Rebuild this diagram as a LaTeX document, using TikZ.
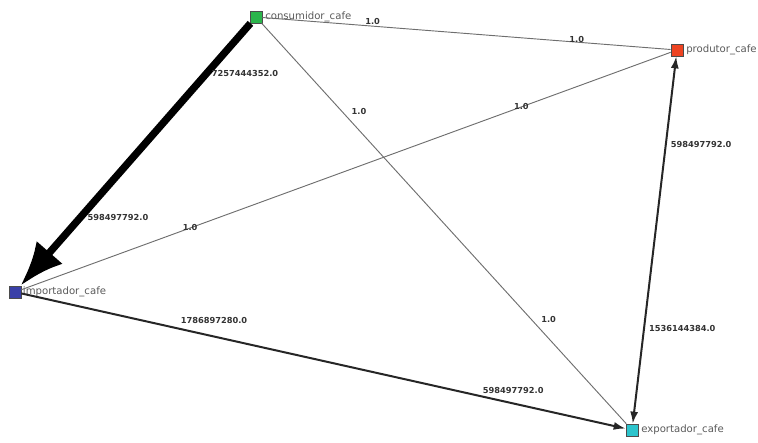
\documentclass[tikz,border=0pt]{standalone}
\usepackage{fontspec}
\setmainfont{DejaVu Sans}
\usepackage{tikz}
\usetikzlibrary{arrows.meta,positioning}
\definecolor{cgreen}{HTML}{2BB54C}
\definecolor{cred}{HTML}{EE4422}
\definecolor{cblue}{HTML}{3A40A8}
\definecolor{ccyan}{HTML}{2CC4CC}
\definecolor{cname}{HTML}{5A5A5A}
\definecolor{cweight}{HTML}{333333}
\definecolor{cthin}{HTML}{6E6E6E}

\begin{document}
\begin{tikzpicture}[x=0.75pt,y=-0.75pt,
  actor/.style={draw=black!70,rectangle,minimum size=9pt,inner sep=0pt,line width=0.5pt},
  actorname/.style={text=cname,font=\fontsize{7.6}{8}\selectfont,inner sep=1pt},
  wlabel/.style={text=cweight,font=\bfseries\fontsize{6.2}{7}\selectfont,inner sep=1pt},
  thinline/.style={cthin,line width=0.7pt},
  flow/.style={black!85,line width=1.5pt,-{Latex[length=9pt,width=6pt]}},
  heavy/.style={black,line width=5.5pt,-{Latex[length=33pt,width=26pt]}}]
\useasboundingbox (0,0) rectangle (758,443);
% actors
\node[actor,fill=cgreen] (cons) at (256,17) {};
\node[actor,fill=cred] (prod) at (677,50) {};
\node[actor,fill=cblue] (imp) at (15,292) {};
\node[actor,fill=ccyan] (exp) at (632,430) {};
\node[actorname,right=1pt of cons] (consname) {consumidor\_cafe};
\node[actorname,right=1pt of prod] (prodname) {produtor\_cafe};
\node[actorname,right=0pt of imp] (impname) {importador\_cafe};
\node[actorname,right=1pt of exp] (expname) {exportador\_cafe};
% relations
\draw[thinline] (cons) -- (prod)
  node[wlabel,pos=0.27,anchor=south] {1.0}
  node[wlabel,pos=0.77,anchor=south,yshift=-2pt] {1.0};
\draw[thinline] (cons) -- (exp)
  node[wlabel,pos=0.22,anchor=west,xshift=6pt] {1.0}
  node[wlabel,pos=0.74,anchor=west,xshift=6pt] {1.0};
\draw[thinline] (prod) -- (imp)
  node[wlabel,pos=0.23] {1.0}
  node[wlabel,pos=0.74] {1.0};
\draw[heavy] (cons) -- (imp)
  node[wlabel,pos=0.19,anchor=west] {7257444352.0}
  node[wlabel,pos=0.73,anchor=west,yshift=-2pt] {598497792.0};
\draw[flow,{Latex[length=9pt,width=6pt]}-{Latex[length=9pt,width=6pt]}] (exp) -- (prod)
  node[wlabel,pos=0.26,anchor=west,xshift=2pt] {1536144384.0}
  node[wlabel,pos=0.76,anchor=west,xshift=2pt] {598497792.0};
\draw[flow] (imp) -- (exp)
  node[wlabel,pos=0.26,anchor=south west,yshift=2pt] {1786897280.0}
  node[wlabel,pos=0.76,anchor=south west] {598497792.0};
\end{tikzpicture}
\end{document}
